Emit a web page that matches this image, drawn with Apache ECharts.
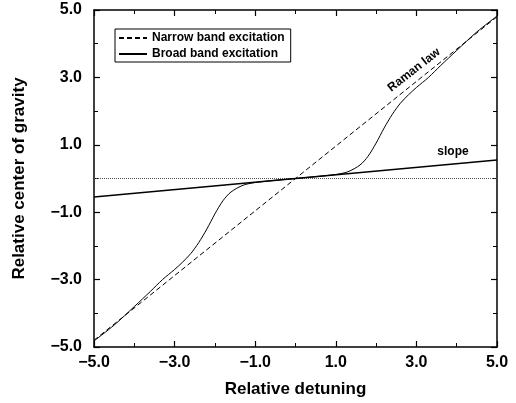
<!DOCTYPE html>
<html>
<head>
    <meta charset="utf-8" />
    <title>Relative center of gravity</title>
    <script src="https://cdn.jsdelivr.net/npm/echarts@6/dist/echarts.min.js"></script>
    <style>
        html, body { margin: 0; padding: 0; background: #fff; }
        #chart { width: 516px; height: 403px; }
    </style>
</head>
<body>
    <div id="chart"></div>
    <script>
        // 数据
        const narrowX = [-5, 5];
        const narrowY = [-4.8, 4.8];
        const slopeX = [-5, 5];
        const slopeY = [-0.55, 0.55];
        const broadX = [-5, -4.5, -4, -3.6, -3.3, -3, -2.8, -2.6, -2.4, -2.2, -2, -1.8, -1.6, -1.3, -1, -0.5, 0,
            0.5, 1, 1.3, 1.6, 1.8, 2, 2.2, 2.4, 2.6, 2.8, 3, 3.3, 3.6, 4, 4.5, 5];
        const broadY = [-4.82, -4.35, -3.8, -3.35, -3.0, -2.7, -2.48, -2.23, -1.9, -1.5, -1.05, -0.66, -0.4, -0.2, -0.12, -0.055, 0,
            0.055, 0.12, 0.2, 0.4, 0.66, 1.05, 1.5, 1.9, 2.23, 2.48, 2.7, 3.0, 3.35, 3.8, 4.35, 4.82];

        const zip = (xs, ys) => xs.map((x, i) => [x, ys[i]]);
        const fmt = v => (v < 0 ? '\u2212' : '') + Math.abs(v).toFixed(1);
        const font = 'Liberation Sans, Arial, sans-serif';

        const baseAxis = {
            min: -5,
            max: 5,
            interval: 2,
            minorTick: { show: true, splitNumber: 2, length: 4, lineStyle: { color: '#000', width: 1 } },
            axisLine: { show: true, onZero: false, lineStyle: { color: '#000', width: 1.5 } },
            axisTick: { show: true, inside: true, length: 6, lineStyle: { color: '#000', width: 1.2 } },
            splitLine: { show: false },
            minorSplitLine: { show: false }
        };

        var myChart = echarts.init(document.getElementById('chart'));
        option = {
            animation: false,
            backgroundColor: '#fff',
            grid: { left: 94, right: 19, top: 10, bottom: 56 },
            legend: {
                left: 115,
                top: 29,
                orient: 'vertical',
                itemWidth: 28,
                itemHeight: 10,
                itemGap: 4,
                padding: [3, 6, 2, 3],
                borderColor: '#000',
                borderWidth: 1,
                itemStyle: { opacity: 0 },
                data: ['Narrow band excitation', 'Broad band excitation'],
                textStyle: { fontFamily: font, fontWeight: 'bold', fontSize: 12, color: '#000' }
            },
            xAxis: [
                Object.assign({}, baseAxis, {
                    type: 'value',
                    position: 'bottom',
                    name: 'Relative detuning',
                    nameLocation: 'middle',
                    nameGap: 34,
                    nameTextStyle: { fontFamily: font, fontWeight: 'bold', fontSize: 17, color: '#000' },
                    axisLabel: { formatter: fmt, margin: 8, fontFamily: font, fontWeight: 'bold', fontSize: 16, color: '#000' }
                }),
                Object.assign({}, baseAxis, { type: 'value', position: 'top', axisLabel: { show: false } })
            ],
            yAxis: [
                Object.assign({}, baseAxis, {
                    type: 'value',
                    position: 'left',
                    name: 'Relative center of gravity',
                    nameLocation: 'middle',
                    nameGap: 66,
                    nameTextStyle: { fontFamily: font, fontWeight: 'bold', fontSize: 17, color: '#000' },
                    axisLabel: { formatter: fmt, margin: 12, fontFamily: font, fontWeight: 'bold', fontSize: 16, color: '#000' }
                }),
                Object.assign({}, baseAxis, { type: 'value', position: 'right', axisLabel: { show: false } })
            ],
            series: [
                {
                    name: 'zero',
                    type: 'line',
                    data: zip([-5, 5], [0, 0]),
                    symbol: 'none',
                    silent: true,
                    lineStyle: { color: '#555', width: 1, type: [1, 1] }
                },
                {
                    name: 'Narrow band excitation',
                    type: 'line',
                    data: zip(narrowX, narrowY),
                    symbol: 'none',
                    lineStyle: { color: '#000', width: 1, type: [5, 3] },
                    itemStyle: { color: '#000' }
                },
                {
                    name: 'slope',
                    type: 'line',
                    data: zip(slopeX, slopeY),
                    symbol: 'none',
                    lineStyle: { color: '#000', width: 1.5 }
                },
                {
                    name: 'Broad band excitation',
                    type: 'line',
                    data: zip(broadX, broadY),
                    symbol: 'none',
                    smooth: 0.3,
                    lineStyle: { color: '#000', width: 1 },
                    itemStyle: { color: '#000' }
                }
            ],
            graphic: [
                {
                    type: 'text',
                    x: 414,
                    y: 70,
                    rotation: 38 * Math.PI / 180,
                    style: {
                        text: 'Raman law',
                        fontFamily: font, fontWeight: 'bold', fontSize: 12, fill: '#000',
                        align: 'center', verticalAlign: 'middle'
                    }
                },
                {
                    type: 'text',
                    x: 453,
                    y: 152,
                    style: {
                        text: 'slope',
                        fontFamily: font, fontWeight: 'bold', fontSize: 12, fill: '#000',
                        align: 'center', verticalAlign: 'middle'
                    }
                }
            ]
        };
        myChart.setOption(option);
    </script>
</body>
</html>
